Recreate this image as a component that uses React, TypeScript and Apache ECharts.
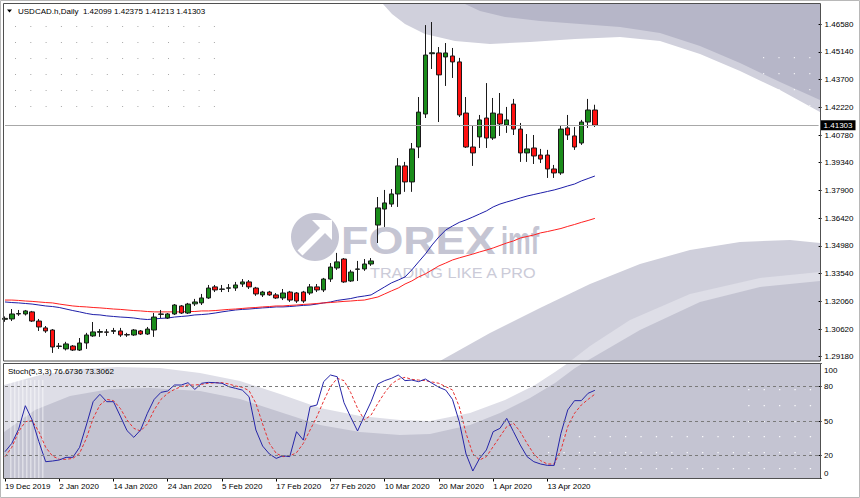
import React, { useEffect, useRef } from 'react';
import * as echarts from 'echarts';

const symbolName = 'USDCAD.h,Daily';
const stochName = 'Stoch(5,3,3)';
const dateLabels = ['19 Dec 2019', '2 Jan 2020', '14 Jan 2020', '24 Jan 2020', '5 Feb 2020', '17 Feb 2020', '27 Feb 2020', '10 Mar 2020', '20 Mar 2020', '1 Apr 2020', '13 Apr 2020'];
const LABEL_EVERY = 8;
const TOTAL_SLOTS = 121;

const opens = [1.3113, 1.3115, 1.3141, 1.3141, 1.3152, 1.3104, 1.3068, 1.3057, 1.2971, 1.2958,
  1.2973, 1.2952, 1.2989, 1.3026, 1.3045, 1.3047, 1.3050, 1.3052, 1.3033, 1.3031,
  1.3052, 1.3036, 1.3057, 1.3139, 1.3120, 1.3141, 1.3183, 1.3146, 1.3194, 1.3199,
  1.3225, 1.3283, 1.3270, 1.3276, 1.3277, 1.3298, 1.3309, 1.3277, 1.3241, 1.3256,
  1.3241, 1.3225, 1.3256, 1.3251, 1.3256, 1.3251, 1.3283, 1.3267, 1.3324, 1.3382,
  1.3429, 1.3314, 1.3375, 1.3377, 1.3403, 1.3607, 1.3691, 1.3717, 1.3770, 1.3917,
  1.3833, 1.4016, 1.4189, 1.4505, 1.4509, 1.4488, 1.4493, 1.4462, 1.4194, 1.4016,
  1.4069, 1.4168, 1.4063, 1.4189, 1.4131, 1.4241, 1.4110, 1.3985, 1.4011, 1.3974,
  1.3974, 1.3901, 1.3880, 1.4116, 1.4074, 1.4037, 1.4147, 1.42099];
const highs = [1.3128, 1.3167, 1.3162, 1.3162, 1.3157, 1.3115, 1.3078, 1.3062, 1.2989, 1.2995,
  1.2978, 1.3015, 1.3042, 1.3099, 1.3062, 1.3062, 1.3068, 1.3068, 1.3042, 1.3062,
  1.3057, 1.3073, 1.3146, 1.3162, 1.3146, 1.3193, 1.3188, 1.3199, 1.3220, 1.3246,
  1.3293, 1.3293, 1.3293, 1.3298, 1.3309, 1.3324, 1.3319, 1.3283, 1.3262, 1.3262,
  1.3251, 1.3272, 1.3262, 1.3256, 1.3262, 1.3298, 1.3298, 1.3330, 1.3408, 1.3461,
  1.3434, 1.3372, 1.3419, 1.3429, 1.3434, 1.3754, 1.3791, 1.3796, 1.3958, 1.3938,
  1.4037, 1.4278, 1.4655, 1.4671, 1.4540, 1.4561, 1.4535, 1.4483, 1.4278, 1.4131,
  1.4184, 1.4351, 1.4273, 1.4299, 1.4226, 1.4268, 1.4142, 1.4084, 1.4079, 1.4006,
  1.4001, 1.3922, 1.4131, 1.4184, 1.4121, 1.4158, 1.4268, 1.42375];
const lows = [1.3100, 1.3104, 1.3131, 1.3133, 1.3099, 1.3052, 1.3042, 1.2937, 1.2958, 1.2950,
  1.2947, 1.2947, 1.2958, 1.3021, 1.3021, 1.3026, 1.3036, 1.3021, 1.3021, 1.3026,
  1.3031, 1.3031, 1.3021, 1.3120, 1.3115, 1.3136, 1.3141, 1.3141, 1.3183, 1.3188,
  1.3220, 1.3256, 1.3256, 1.3256, 1.3262, 1.3283, 1.3272, 1.3236, 1.3230, 1.3236,
  1.3220, 1.3214, 1.3204, 1.3199, 1.3199, 1.3241, 1.3256, 1.3256, 1.3309, 1.3372,
  1.3304, 1.3309, 1.3314, 1.3367, 1.3393, 1.3513, 1.3597, 1.3702, 1.3702, 1.3781,
  1.3781, 1.3958, 1.4168, 1.4425, 1.4147, 1.4336, 1.4378, 1.4173, 1.4011, 1.3917,
  1.4011, 1.4011, 1.4053, 1.4074, 1.4090, 1.4079, 1.3938, 1.3938, 1.3927, 1.3932,
  1.3854, 1.3854, 1.3870, 1.4053, 1.4001, 1.4027, 1.4116, 1.41213];
const closes = [1.3118, 1.3141, 1.3143, 1.3157, 1.3104, 1.3073, 1.3052, 1.2968, 1.2973, 1.2984,
  1.2952, 1.2989, 1.3031, 1.3047, 1.3049, 1.3045, 1.3054, 1.3031, 1.3031, 1.3057,
  1.3036, 1.3062, 1.3125, 1.3141, 1.3141, 1.3188, 1.3146, 1.3193, 1.3204, 1.3225,
  1.3277, 1.3267, 1.3272, 1.3278, 1.3293, 1.3309, 1.3283, 1.3246, 1.3256, 1.3241,
  1.3225, 1.3251, 1.3214, 1.3209, 1.3209, 1.3283, 1.3267, 1.3324, 1.3387, 1.3414,
  1.3309, 1.3361, 1.3377, 1.3403, 1.3419, 1.3697, 1.3723, 1.3770, 1.3917, 1.3833,
  1.4006, 1.4199, 1.4498, 1.4510, 1.4394, 1.4509, 1.4462, 1.4184, 1.4016, 1.3985,
  1.4158, 1.4063, 1.4194, 1.4137, 1.4158, 1.4110, 1.3985, 1.4006, 1.3969, 1.3953,
  1.3901, 1.3880, 1.4110, 1.4079, 1.4016, 1.4147, 1.4210, 1.41303];

const maBlue = [1.3204, 1.3201, 1.3199, 1.3196, 1.3193, 1.3188, 1.3183, 1.3180, 1.3175, 1.3167,
  1.3159, 1.3152, 1.3144, 1.3138, 1.3136, 1.3131, 1.3128, 1.3125, 1.3123, 1.3120,
  1.3115, 1.3112, 1.3115, 1.3118, 1.3120, 1.3125, 1.3128, 1.3131, 1.3136, 1.3138,
  1.3141, 1.3146, 1.3152, 1.3157, 1.3162, 1.3165, 1.3167, 1.3170, 1.3173, 1.3175,
  1.3178, 1.3178, 1.3180, 1.3183, 1.3186, 1.3188, 1.3193, 1.3199, 1.3204, 1.3212,
  1.3217, 1.3222, 1.3230, 1.3235, 1.3241, 1.3262, 1.3283, 1.3304, 1.3319, 1.3335,
  1.3372, 1.3414, 1.3455, 1.3503, 1.3545, 1.3581, 1.3602, 1.3621, 1.3634, 1.3649,
  1.3665, 1.3681, 1.3702, 1.3717, 1.3728, 1.3738, 1.3749, 1.3759, 1.3767, 1.3775,
  1.3783, 1.3791, 1.3801, 1.3812, 1.3822, 1.3838, 1.3851, 1.3864];
const maRed = [1.3214, 1.3214, 1.3212, 1.3209, 1.3207, 1.3204, 1.3201, 1.3199, 1.3193, 1.3188,
  1.3183, 1.3180, 1.3178, 1.3175, 1.3173, 1.3170, 1.3167, 1.3165, 1.3162, 1.3159,
  1.3157, 1.3154, 1.3152, 1.3152, 1.3152, 1.3152, 1.3152, 1.3154, 1.3154, 1.3157,
  1.3157, 1.3159, 1.3162, 1.3165, 1.3167, 1.3170, 1.3173, 1.3175, 1.3178, 1.3180,
  1.3183, 1.3183, 1.3186, 1.3188, 1.3191, 1.3193, 1.3196, 1.3199, 1.3201, 1.3204,
  1.3207, 1.3209, 1.3212, 1.3214, 1.3222, 1.3230, 1.3246, 1.3262, 1.3277, 1.3298,
  1.3314, 1.3335, 1.3351, 1.3372, 1.3393, 1.3408, 1.3424, 1.3435, 1.3445, 1.3455,
  1.3466, 1.3476, 1.3487, 1.3500, 1.3513, 1.3524, 1.3539, 1.3547, 1.3555, 1.3566,
  1.3573, 1.3581, 1.3589, 1.3600, 1.3610, 1.3621, 1.3631, 1.3642];

const stochK = [23.3, 30.5, 42.7, 63.3, 50.9, 32.0, 14.6, 15.2, 16.1, 18.4,
  18.4, 27.1, 46.5, 66.8, 73.2, 66.8, 66.8, 54.3, 41.6, 35.8,
  42.2, 56.7, 68.8, 74.9, 76.1, 81.3, 81.3, 83.3, 77.5, 82.8,
  83.6, 83.3, 82.8, 79.9, 78.4, 76.9, 71.1, 42.2, 28.2, 21.3,
  17.5, 19.8, 19.0, 40.7, 33.4, 62.4, 63.9, 84.2, 90.0, 88.5,
  65.9, 53.2, 41.3, 54.3, 66.8, 82.2, 85.1, 87.1, 90.0, 85.1,
  85.6, 84.2, 86.5, 82.8, 79.3, 76.9, 68.8, 49.4, 21.3, 6.5,
  17.5, 24.8, 40.7, 43.6, 52.3, 40.7, 29.1, 19.0, 14.6, 12.6,
  11.4, 11.4, 39.3, 59.6, 67.7, 67.7, 74.1, 76.6736];
const stochD = [19.0, 27.1, 40.7, 49.4, 50.3, 40.7, 27.1, 19.6, 16.7, 16.7,
  17.5, 21.9, 34.9, 52.3, 63.9, 68.8, 67.7, 61.0, 50.9, 43.6,
  41.3, 47.4, 59.6, 68.8, 74.1, 77.5, 79.9, 81.3, 81.3, 81.9,
  82.8, 83.3, 83.3, 82.2, 80.4, 79.3, 76.4, 65.4, 47.4, 30.5,
  21.9, 19.0, 19.6, 22.5, 30.5, 42.2, 53.8, 67.4, 79.9, 87.1,
  85.1, 74.6, 61.0, 50.9, 55.2, 65.4, 74.6, 82.2, 86.2, 88.0,
  86.2, 85.6, 85.1, 83.9, 82.8, 79.9, 77.0, 62.5, 39.3, 21.3,
  16.1, 19.0, 27.7, 36.4, 45.1, 48.0, 40.7, 30.5, 21.3, 15.5,
  12.6, 12.6, 24.8, 45.1, 56.7, 63.9, 68.8, 73.3062];

const priceTicks = [1.2918, 1.3062, 1.3206, 1.3354, 1.3498, 1.3642, 1.3790, 1.3934, 1.4078, 1.4222, 1.4370, 1.4514, 1.4658];
const stochTicks = [0, 20, 50, 80, 100];
const stochLevels = [20, 50, 80];

const FONT = '"Liberation Sans", Arial, sans-serif';

function poly(points: number[][], fill: string, z = 0) {
  return { type: 'polygon', silent: true, z, shape: { points }, style: { fill, stroke: 'none' } };
}

function buildGraphic() {
  const els: any[] = [];
  // main pane, top-right waves
  els.push(poly([[383, 4], [392, 14], [405, 24], [425, 34], [455, 41], [490, 44], [530, 42], [575, 39], [620, 37], [660, 41], [700, 54], [740, 71], [780, 90], [820, 112], [820, 4]], '#d0d0dc'));
  els.push(poly([[465, 4], [480, 11], [505, 17], [540, 21], [580, 24], [620, 27], [660, 33], [700, 46], [740, 63], [780, 82], [820, 100], [820, 4]], '#b6b6c8'));
  // main pane, bottom-right
  els.push(poly([[440, 361], [490, 333], [540, 308], [590, 284], [640, 264], [690, 250], [740, 242], [790, 240], [820, 243], [820, 361]], '#cfcfdb'));
  // wave spanning both panes
  els.push(poly([[4, 385], [40, 375], [80, 369], [117, 367], [160, 368], [200, 373], [240, 381], [280, 394], [320, 408], [360, 416], [400, 420], [430, 421], [470, 413], [505, 400], [535, 385], [555, 372], [568, 363], [590, 346], [630, 320], [690, 294], [760, 278], [820, 272], [820, 478], [4, 478]], '#dedee7'));
  els.push(poly([[4, 432], [35, 410], [70, 396], [110, 389], [150, 388], [200, 391], [240, 399], [280, 412], [320, 425], [360, 432], [400, 435], [430, 434], [470, 425], [500, 413], [530, 398], [555, 383], [575, 368], [585, 362], [640, 330], [700, 302], [760, 287], [820, 281], [820, 478], [4, 478]], '#c4c4d2'));
  // vertical light stripes in stoch pane
  for (let k = 0; k < 9; k++) {
    els.push({ type: 'rect', silent: true, z: 0, shape: { x: 10 + k * 4, y: 380, width: 1.5, height: 98 }, style: { fill: 'rgba(255,255,255,0.45)' } });
  }
  // dots top-left
  for (let r = 0; r < 6; r++) for (let c = 0; c < 14; c++) {
    els.push({ type: 'rect', silent: true, z: 1, shape: { x: 15 + c * 15.3, y: 26 + r * 16, width: 1, height: 1 }, style: { fill: '#a8a8a8' } });
  }
  // dots top-right (white)
  for (let r = 0; r < 4; r++) for (let c = 0; c < 4; c++) {
    els.push({ type: 'rect', silent: true, z: 1, shape: { x: 763 + c * 15.4, y: 57 + r * 16, width: 1.2, height: 1.2 }, style: { fill: 'rgba(255,255,255,0.8)' } });
  }
  // dots stoch right (white)
  const rowsY = [389, 405, 421, 436, 452, 468];
  rowsY.forEach((y, r) => {
    for (let c = 0; c < 18; c++) {
      const x = 548 + c * 15.4;
      if (r < 3 && x < 745) continue;
      if (r === 5 && x < 560) continue;
      els.push({ type: 'rect', silent: true, z: 1, shape: { x, y, width: 1.3, height: 1.3 }, style: { fill: 'rgba(255,255,255,0.9)' } });
    }
  });
  // watermark
  const wm = '#c5c5d3';
  els.push({ type: 'circle', silent: true, z: 1, shape: { cx: 315, cy: 237, r: 24 }, style: { fill: wm } });
  els.push(poly([[312, 220], [332, 220], [332, 240]], '#ffffff', 1));
  els.push({ type: 'line', silent: true, z: 1, shape: { x1: 324, y1: 229, x2: 300, y2: 253 }, style: { stroke: '#ffffff', lineWidth: 7 } });
  els.push({ type: 'text', silent: true, z: 1, x: 341, y: 241, scaleX: 1.18, style: { text: 'FOREX', fill: wm, font: `bold 38px ${FONT}`, lineHeight: 28, align: 'left', verticalAlign: 'middle' } });
  els.push({ type: 'text', silent: true, z: 1, x: 501, y: 241, scaleX: 0.67, style: { text: 'imf', fill: wm, font: `bold 38px ${FONT}`, lineHeight: 28, align: 'left', verticalAlign: 'middle' } });
  els.push({ type: 'text', silent: true, z: 1, x: 370, y: 272.5, scaleX: 1.06, style: { text: 'TRADING LIKE A PRO', fill: '#cbcbd8', font: `15.3px ${FONT}`, lineHeight: 12, align: 'left', verticalAlign: 'middle' } });
  // gap between panes
  els.push({ type: 'rect', silent: true, z: 5, shape: { x: 3, y: 361.5, width: 818, height: 2 }, style: { fill: '#ffffff' } });
  // borders
  els.push({ type: 'rect', silent: true, z: 10, shape: { x: 0.5, y: 0.5, width: 859, height: 497 }, style: { fill: 'none', stroke: '#b8b8b8', lineWidth: 1 } });
  els.push({ type: 'rect', silent: true, z: 10, shape: { x: 3.5, y: 3.5, width: 817, height: 357.5 }, style: { fill: 'none', stroke: '#505050', lineWidth: 1 } });
  els.push({ type: 'rect', silent: true, z: 10, shape: { x: 3.5, y: 363.5, width: 817, height: 115 }, style: { fill: 'none', stroke: '#505050', lineWidth: 1 } });
  // header
  const n = opens.length;
  els.push(poly([[7, 9.5], [12, 9.5], [9.5, 12.5]], '#000000', 10));
  els.push({ type: 'text', silent: true, z: 10, x: 18, y: 11, style: { text: `${symbolName}  ${opens[n - 1].toFixed(5)} ${highs[n - 1].toFixed(5)} ${lows[n - 1].toFixed(5)} ${closes[n - 1].toFixed(5)}`, fill: '#000', font: `8px ${FONT}`, align: 'left', verticalAlign: 'middle' } });
  els.push({ type: 'text', silent: true, z: 10, x: 8, y: 371, style: { text: `${stochName} ${stochK[n - 1].toFixed(4)} ${stochD[n - 1].toFixed(4)}`, fill: '#000', font: `8px ${FONT}`, align: 'left', verticalAlign: 'middle' } });
  return els;
}

function buildOption(): any {
  const n = opens.length;
  const cats = Array.from({ length: TOTAL_SLOTS }, (_, i) => String(i));
  const candleData = opens.map((o, i) => [o, closes[i], lows[i], highs[i]]);
  const isLabelSlot = (i: number) => i % LABEL_EVERY === 0 && i / LABEL_EVERY < dateLabels.length;
  const yMin = 1.28946;
  const yMax = 1.47681;
  return {
    animation: false,
    backgroundColor: '#ffffff',
    grid: [
      { left: 5, top: 3.5, width: 813.6, height: 357.5 },
      { left: 5, top: 363.5, width: 813.6, height: 115 },
    ],
    xAxis: [
      { type: 'category', gridIndex: 0, data: cats, boundaryGap: false, show: false },
      {
        type: 'category', gridIndex: 1, data: cats, boundaryGap: false,
        axisLine: { show: false },
        splitLine: { show: false },
        axisTick: { show: true, interval: (i: number) => isLabelSlot(i), length: 3, lineStyle: { color: '#000' } },
        axisLabel: {
          interval: (i: number) => isLabelSlot(i),
          formatter: (v: string) => {
            const i = parseInt(v, 10);
            return isLabelSlot(i) ? dateLabels[i / LABEL_EVERY] : '';
          },
          align: 'left', margin: 4, fontSize: 8, color: '#000', fontFamily: FONT,
        },
      },
    ],
    yAxis: [
      {
        type: 'value', gridIndex: 0, position: 'right', min: yMin, max: yMax,
        axisLine: { show: false }, splitLine: { show: false },
        axisTick: { show: true, customValues: priceTicks, length: 3, lineStyle: { color: '#000' } },
        axisLabel: { customValues: priceTicks, formatter: (v: number) => v.toFixed(5), margin: 6, fontSize: 8, lineHeight: 8, color: '#000', fontFamily: FONT },
      },
      {
        type: 'value', gridIndex: 1, position: 'right', min: 0, max: 100,
        axisLine: { show: false }, splitLine: { show: false },
        axisTick: { show: true, customValues: stochTicks, length: 3, lineStyle: { color: '#000' } },
        axisLabel: {
          customValues: stochTicks, margin: 5.5, fontSize: 8, color: '#000', fontFamily: FONT,
          formatter: (v: number) => (v === 100 ? `{t|${v}}` : v === 0 ? `{b|${v}}` : String(v)),
          rich: {
            t: { padding: [13, 0, 0, 0], fontSize: 8, color: '#000', fontFamily: FONT },
            b: { padding: [0, 0, 10, 0], fontSize: 8, color: '#000', fontFamily: FONT },
          },
        },
      },
    ],
    series: [
      {
        type: 'candlestick', xAxisIndex: 0, yAxisIndex: 0, data: candleData, barWidth: 5, z: 4,
        itemStyle: { color: '#1a8c1a', color0: '#ff1010', borderColor: '#1a1a1a', borderColor0: '#1a1a1a', borderWidth: 1 },
        markLine: {
          silent: true, symbol: ['none', 'none'], animation: false, precision: 5,
          lineStyle: { color: '#a8a8a8', width: 1, type: 'solid' },
          label: {
            show: true, position: 'end', distance: 2,
            formatter: (p: any) => Number(p.value).toFixed(5),
            backgroundColor: '#000', color: '#fff', padding: [1, 3, 0, 3], lineHeight: 9, fontSize: 8, fontFamily: FONT,
          },
          data: [{ yAxis: closes[n - 1] }],
        },
      },
      { type: 'line', xAxisIndex: 0, yAxisIndex: 0, data: maBlue, symbol: 'none', z: 3, lineStyle: { color: '#1e1ea8', width: 1 } },
      { type: 'line', xAxisIndex: 0, yAxisIndex: 0, data: maRed, symbol: 'none', z: 3, lineStyle: { color: '#ff2020', width: 1 } },
      {
        type: 'line', xAxisIndex: 1, yAxisIndex: 1, data: stochK, symbol: 'none', z: 4,
        lineStyle: { color: '#2525a8', width: 1 },
        markLine: {
          silent: true, symbol: ['none', 'none'], animation: false, label: { show: false },
          lineStyle: { color: '#7a7a7a', width: 1, type: [3, 3] },
          data: stochLevels.map((v) => ({ yAxis: v })),
        },
      },
      { type: 'line', xAxisIndex: 1, yAxisIndex: 1, data: stochD, symbol: 'none', z: 3, lineStyle: { color: '#e83030', width: 1, type: [3, 2] } },
    ],
    graphic: { elements: buildGraphic() },
  };
}

export default function App() {
  const ref = useRef<HTMLDivElement>(null);
  useEffect(() => {
    if (!ref.current) return;
    const chart = echarts.init(ref.current, null, { renderer: 'svg' });
    chart.setOption(buildOption());
    return () => chart.dispose();
  }, []);
  return <div ref={ref} style={{ position: 'fixed', left: 0, top: 0, width: 860, height: 498, background: '#fff' }} />;
}
